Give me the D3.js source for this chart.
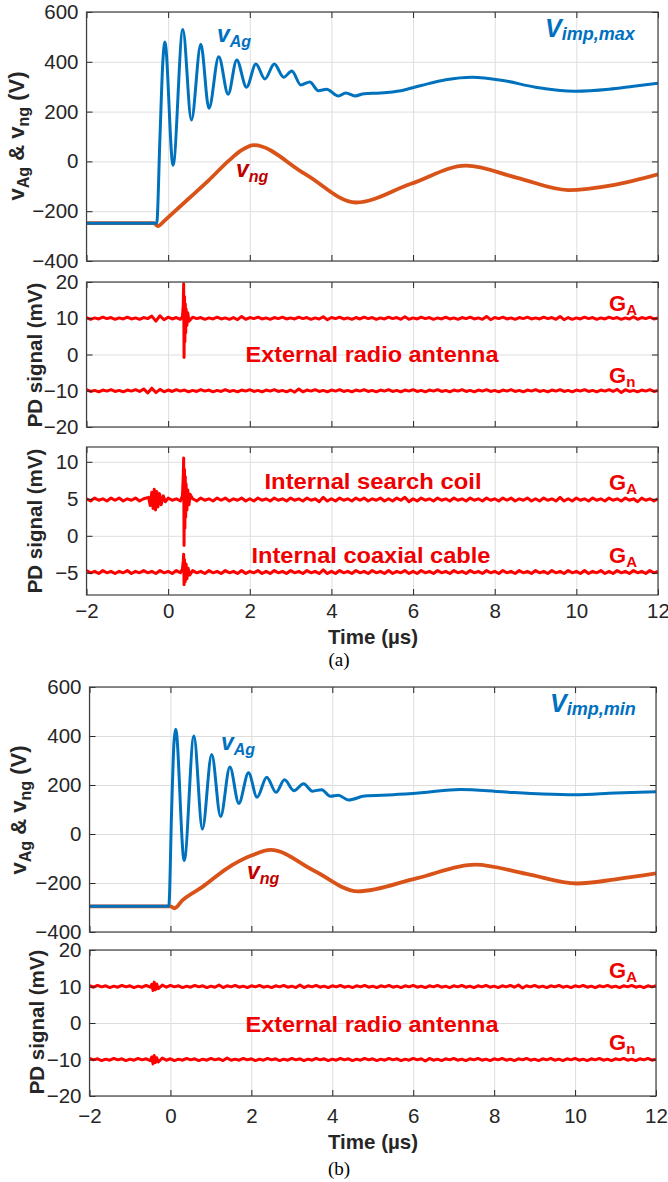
<!DOCTYPE html>
<html>
<head>
<meta charset="utf-8">
<script src="https://cdn.jsdelivr.net/npm/d3@7"></script>
<style>
  body { margin: 0; background: #fff; }
  svg { display: block; font-family: "Liberation Sans", Arial, sans-serif; }
  .grid line { stroke: #dedede; stroke-width: 1; }
  .grid path { display: none; }
</style>
</head>
<body>
<div id="chart"></div>
<script>
// ---- DATA ----
let timeTicks = [-2, 0, 2, 4, 6, 8, 10, 12];
let voltTicks = [-400, -200, 0, 200, 400, 600];
let pdTicksWide = [-20, -10, 0, 10, 20];
let pdTicksNarrow = [-5, 0, 5, 10];

// (a) V_imp,max : [time us, volts]
let vAgMax = [[-2,-248],[-0.6,-248],[-0.28,-248],[-0.2,100],[-0.13,400],[-0.08,480],[0.12,-15],[0.36,530],[0.57,166],[0.80,470],[1.00,213],[1.24,420],[1.47,270],[1.68,407],[1.92,298],[2.15,391],[2.37,331],[2.60,391],[2.83,338],[3.03,363],[3.25,307],[3.47,319],[3.68,284],[3.88,290],[4.17,263],[4.35,275],[4.58,263],[4.8,272],[5.2,275],[5.7,284],[6.2,305],[6.8,328],[7.45,338],[8.2,325],[9.0,298],[9.96,282],[10.8,290],[11.4,302],[12,314]];
let vngMax = [[-2,-248],[-0.35,-248],[-0.25,-260],[-0.1,-240],[0,-225],[0.5,-150],[1.0,-75],[1.5,5],[1.8,45],[2.1,65],[3.35,-50],[4.6,-165],[5.95,-90],[7.3,-17],[8.55,-66],[9.8,-115],[10.9,-95],[12,-52]];

// (b) V_imp,min
let vAgMin = [[-2,-295],[-0.6,-295],[-0.04,-295],[0.03,100],[0.09,380],[0.13,428],[0.34,-108],[0.58,400],[0.79,20],[1.02,325],[1.24,71],[1.47,273],[1.69,125],[1.93,250],[2.14,150],[2.38,232],[2.61,170],[2.82,221],[3.05,177],[3.29,205],[3.51,175],[3.74,181],[3.95,154],[4.15,158],[4.40,139],[4.8,155],[5.5,160],[6.2,168],[7.16,182],[8.2,172],[9.2,163],[10.0,160],[11,167],[12,172]];
let vngMin = [[-2,-295],[-0.6,-295],[0.0,-295],[0.1,-303],[0.3,-270],[0.8,-215],[1.4,-140],[2.0,-88],[2.48,-65],[3.55,-150],[4.63,-234],[6.1,-180],[7.53,-125],[8.8,-163],[10.05,-202],[11,-185],[12,-161]];

// PD signals: baseline (mV), ripple every 0.1 us (units of 0.1 mV), spike groups [time, mV]
let pdRippleA1 = [2,-3,1,-2,3,-1,2,-3,1,-2, 3,-2,1,-3,2,-1,6,-8,7,-4, 3,-2,2,-3,2,-2,3,-1,2,-3, 1,-2,3,-2,1,-3,2,-4,5,-3, 2,-1,3,-2,1,-3,2,-1,3,-2, 1,-2,3,-1,2,-3,1,-2,4,-4, 2,-1,3,-2,1,-3,2,-2,3,-1, 2,-3,1,-2,3,-1,2,-3,4,-3, 1,-2,3,-1,2,-3,1,-2,3,-2, 1,-3,2,-1,3,-2,1,-3,5,-4, 2,-1,3,-2,1,-3,2,-1,3,-2, 1,-2,3,-1,2,-3,5,-4,2,-3, 1,-2,3,-1,2,-3,1,-2,3,-1, 2,-3,1,-2,4,-3,2,-1,3,-2, 1];
let pdRippleN1 = [3,-2,1,-3,2,-1,3,-2,1,-3, 2,-1,3,-2,5,-6,7,-5,4,-3, 2,-2,3,-1,2,-3,1,-2,3,-1, 2,-3,1,-2,3,-2,1,-3,2,-1, 3,-2,1,-3,2,-1,3,-2,1,-3, 2,-4,5,-3,2,-1,3,-2,1,-3, 2,-1,3,-2,1,-3,2,-1,3,-2, 1,-3,2,-1,3,-2,1,-3,2,-1, 3,-2,1,-3,2,-1,3,-2,1,-3, 2,-1,3,-2,1,-3,2,-1,3,-2, 1,-3,2,-1,3,-2,1,-3,2,-1, 3,-2,1,-3,2,-1,3,-2,1,-3, 2,-1,3,-2,1,-3,2,-1,3,-2, 4,-5,3,-2,1,-3,2,-1,3,-2, 1];
let pdRippleCoil = [1,-2,2,-1,1,-2,2,-1,2,-2, 1,-1,2,-2,1,-2,2,-1,1,-2, 2,-1,1,-2,2,-1,1,-2,2,-1, 1,-2,2,-1,2,-2,1,-1,2,-2, 1,-2,2,-1,1,-2,2,-1,1,-2, 2,-1,1,-2,2,-1,1,-3,3,-2, 1,-2,2,-1,1,-2,2,-1,2,-2, 1,-1,2,-2,1,-2,2,-1,3,-3, 1,-2,2,-1,1,-2,2,-1,1,-2, 2,-1,1,-2,2,-1,1,-2,2,-1, 1,-2,2,-1,2,-2,1,-1,2,-2, 1,-2,2,-1,1,-2,3,-2,1,-2, 2,-1,1,-2,2,-1,1,-2,2,-1, 1,-2,2,-1,1,-3,2,-1,1,-2, 1];
let pdRippleCoax = [2,-1,1,-2,2,-1,1,-2,1,-1, 2,-2,1,-1,2,-1,1,-2,2,-1, 1,-2,2,-1,1,-2,2,-1,1,-2, 2,-1,1,-2,2,-1,1,-2,2,-2, 1,-1,2,-2,1,-2,2,-1,1,-2, 2,-1,1,-2,2,-1,1,-2,3,-2, 1,-2,2,-1,1,-2,2,-1,1,-2, 2,-1,1,-2,2,-2,1,-1,2,-2, 1,-2,2,-1,1,-2,2,-1,1,-2, 2,-1,1,-2,2,-1,1,-2,2,-1, 1,-2,2,-1,1,-2,2,-1,1,-2, 2,-1,1,-2,2,-1,1,-2,2,-1, 1,-2,2,-2,1,-1,2,-2,1,-2, 2,-1,1,-2,2,-1,1,-2,2,-1, 1];
let pdRippleA2 = [2,-2,3,-1,2,-3,1,-2,3,-1, 2,-3,1,-2,3,-2,5,-6,4,-2, 3,-1,2,-3,1,-2,3,-1,2,-3, 1,-2,4,-3,2,-1,3,-2,1,-3, 2,-1,3,-2,1,-3,2,-1,3,-2, 1,-3,4,-3,2,-1,3,-2,1,-3, 2,-1,3,-2,1,-3,2,-1,3,-2, 1,-3,2,-1,3,-2,1,-3,2,-1, 3,-2,1,-3,2,-1,3,-2,1,-3, 2,-1,3,-2,1,-3,2,-1,3,-2, 1,-3,2,-1,3,-2,4,-4,2,-1, 3,-2,1,-3,2,-1,3,-2,1,-3, 2,-1,3,-2,1,-3,2,-1,3,-2, 1,-3,2,-1,3,-2,1,-3,2,-1, 2];
let pdRippleN2 = [3,-1,2,-3,1,-2,3,-1,2,-3, 1,-2,3,-1,2,-3,5,-7,4,-2, 2,-3,1,-2,3,-1,2,-3,1,-2, 3,-1,2,-3,4,-2,1,-2,3,-1, 2,-3,1,-2,3,-1,2,-3,1,-2, 3,-1,2,-3,1,-2,3,-1,2,-3, 1,-2,3,-1,2,-3,1,-2,3,-1, 2,-3,1,-2,3,-1,2,-3,1,-2, 3,-1,2,-4,3,-2,1,-3,2,-1, 3,-2,1,-3,2,-1,3,-2,1,-3, 2,-1,3,-2,1,-3,2,-1,3,-2, 1,-3,2,-1,3,-2,1,-3,2,-1, 3,-2,1,-3,2,-1,3,-2,1,-3, 2,-1,3,-2,1,-3,2,-1,3,-2, 1];

let spikeA1 = [[[0.35,10.4],[0.37,13.5],[0.38,19.5],[0.39,-0.8],[0.40,16],[0.41,3.5],[0.42,14],[0.43,6],[0.44,12.5],[0.46,8],[0.48,11.5],[0.51,9.2]]];
let spikeCoil = [[[-0.48,5.2],[-0.44,4.1],[-0.4,5.9],[-0.37,3.7],[-0.34,6.3],[-0.31,3.5],[-0.28,6.0],[-0.25,3.9],[-0.21,5.7],[-0.17,4.2],[-0.12,5.4],[-0.07,4.6]],
                 [[0.35,5.4],[0.37,8],[0.38,10.5],[0.39,-1.3],[0.40,9],[0.41,1],[0.42,8],[0.43,2.5],[0.44,7],[0.46,3.5],[0.48,6.2],[0.51,4.2],[0.54,5.6]]];
let spikeCoax = [[[0.35,-4.5],[0.37,-3.4],[0.38,-2.5],[0.39,-6.6],[0.40,-3.2],[0.42,-6.2],[0.44,-3.8],[0.46,-5.8],[0.49,-4.4],[0.53,-5.3]]];
let spikeA2 = [[[-0.46,10.6],[-0.43,8.9],[-0.4,11.2],[-0.37,9.1],[-0.34,10.7]]];
let spikeN2 = [[[-0.46,-9.3],[-0.43,-11.2],[-0.4,-8.9],[-0.37,-10.8],[-0.34,-9.5]]];

// ---- LAYOUT ----
let svg = d3.select("#chart").append("svg")
    .attr("width", 668)
    .attr("height", 1182);

let blue = "#0072BD", orange = "#D95319", red = "#FF0000";
let labelBlue = "#0070C0", labelDark = "#C00000", labelRed = "#F00000";
let tickFont = 20.5;

let panels = [
    {x0: 86.5, x1: 658, y0: 12,  y1: 261, dom: [-400, 600], ticks: voltTicks,     xLabels: false},
    {x0: 86.5, x1: 658, y0: 282, y1: 427, dom: [-20, 20],   ticks: pdTicksWide,   xLabels: false},
    {x0: 86.5, x1: 658, y0: 447, y1: 595, dom: [-8, 12],    ticks: pdTicksNarrow, xLabels: true, pad: 8},
    {x0: 89.5, x1: 656, y0: 687, y1: 932, dom: [-400, 600], ticks: voltTicks,     xLabels: false},
    {x0: 89.5, x1: 656, y0: 950, y1: 1096, dom: [-20, 20],  ticks: pdTicksWide,   xLabels: true, pad: 12}
];

let tGrid = d3.range(141).map(i => -2 + i * 0.1);

function pdTrace(base, ripple, spikes) {
    let pts = ripple.map((r, i) => [tGrid[i], base + r * 0.1])
        .filter(p => spikes.every(s => p[0] < s[0][0] - 0.02 || p[0] > s[s.length - 1][0] + 0.02));
    spikes.forEach(s => { pts = pts.concat(s); });
    return pts.sort((a, b) => a[0] - b[0]);
}

function drawPanel(p, i) {
    let x = d3.scaleLinear().domain([-2, 12]).range([p.x0, p.x1]);
    let y = d3.scaleLinear().domain(p.dom).range([p.y1, p.y0]);
    let g = svg.append("g");
    let w = p.x1 - p.x0, h = p.y1 - p.y0;

    // grid
    g.append("g").attr("class", "grid")
        .attr("transform", "translate(0," + p.y0 + ")")
        .call(d3.axisBottom(x).tickValues(timeTicks).tickSize(h).tickFormat(""));
    g.append("g").attr("class", "grid")
        .attr("transform", "translate(" + p.x0 + ",0)")
        .call(d3.axisRight(y).tickValues(p.ticks).tickSize(w).tickFormat(""));

    // clip
    g.append("clipPath").attr("id", "clip" + i)
        .append("rect").attr("x", p.x0).attr("y", p.y0).attr("width", w).attr("height", h);
    p.plot = g.append("g").attr("clip-path", "url(#clip" + i + ")");

    // axes, ticks pointing inward
    let axes = [
        [d3.axisLeft(y).tickValues(p.ticks).tickPadding(8), "translate(" + p.x0 + ",0)"],
        [d3.axisRight(y).tickValues(p.ticks).tickFormat(""), "translate(" + p.x1 + ",0)"],
        [d3.axisTop(x).tickValues(timeTicks).tickFormat(""), "translate(0," + p.y0 + ")"],
        [d3.axisBottom(x).tickValues(timeTicks).tickPadding(p.pad || 8)
            .tickFormat(p.xLabels ? d3.format("d") : ""), "translate(0," + p.y1 + ")"]
    ];
    axes.forEach(a => {
        let ag = g.append("g").attr("transform", a[1])
            .call(a[0].tickSizeInner(-6).tickSizeOuter(0));
        ag.select(".domain").remove();
        ag.selectAll("line").attr("stroke", "#262626");
        ag.selectAll("text").attr("fill", "#262626").attr("font-size", tickFont)
            .attr("font-family", "'Liberation Sans', Arial, sans-serif");
    });
    g.append("rect").attr("x", p.x0).attr("y", p.y0).attr("width", w).attr("height", h)
        .attr("fill", "none").attr("stroke", "#404040").attr("stroke-width", 1.2);

    p.x = x; p.y = y;
}
panels.forEach(drawPanel);

function drawLine(p, data, color, width, curve) {
    let line = d3.line().x(d => p.x(d[0])).y(d => p.y(d[1])).curve(curve);
    p.plot.append("path").datum(data)
        .attr("fill", "none").attr("stroke", color).attr("stroke-width", width)
        .attr("stroke-linejoin", "round").attr("d", line);
}

drawLine(panels[0], vngMax, orange, 3.8, d3.curveMonotoneX);
drawLine(panels[0], vAgMax, blue, 3, d3.curveMonotoneX);
drawLine(panels[3], vngMin, orange, 3.8, d3.curveMonotoneX);
drawLine(panels[3], vAgMin, blue, 3, d3.curveMonotoneX);

drawLine(panels[1], pdTrace(10, pdRippleA1, spikeA1), red, 3, d3.curveLinear);
drawLine(panels[1], pdTrace(-10, pdRippleN1, []), red, 3, d3.curveLinear);
drawLine(panels[2], pdTrace(4.9, pdRippleCoil, spikeCoil), red, 3, d3.curveLinear);
drawLine(panels[2], pdTrace(-4.9, pdRippleCoax, spikeCoax), red, 3, d3.curveLinear);
drawLine(panels[4], pdTrace(10, pdRippleA2, spikeA2), red, 3, d3.curveLinear);
drawLine(panels[4], pdTrace(-10, pdRippleN2, spikeN2), red, 3, d3.curveLinear);

// ---- TEXT ----
// parts: [text, size, baseline shift]
function richText(x, y, parts, opt) {
    let t = svg.append("text").attr("x", x).attr("y", y)
        .attr("font-weight", "bold")
        .attr("font-style", opt.italic ? "italic" : "normal")
        .attr("fill", opt.color || "#262626")
        .attr("text-anchor", opt.anchor || "start");
    if (opt.rotate) t.attr("transform", "rotate(-90," + x + "," + y + ")");
    if (opt.length) t.attr("textLength", opt.length).attr("lengthAdjust", "spacingAndGlyphs");
    let shift = 0;
    parts.forEach(pt => {
        t.append("tspan").attr("font-size", pt[1]).attr("dy", pt[2] - shift).text(pt[0]);
        shift = pt[2];
    });
    return t;
}

// y axis titles
let vTitle = [["v", 22, 0], ["Ag", 16, 5], [" & v", 22, 0], ["ng", 16, 5], [" (V)", 22, 0]];
richText(24, 136, vTitle, {rotate: true, anchor: "middle"});
richText(42, 355, [["PD signal (mV)", 20.5, 0]], {rotate: true, anchor: "middle"});
richText(42, 521, [["PD signal (mV)", 20.5, 0]], {rotate: true, anchor: "middle"});
richText(26, 810, vTitle, {rotate: true, anchor: "middle"});
richText(44, 1022, [["PD signal (mV)", 20.5, 0]], {rotate: true, anchor: "middle"});

// x axis titles and captions
richText(373, 644, [["Time (\u00b5s)", 20.5, 0]], {anchor: "middle"});
richText(373, 1149, [["Time (\u00b5s)", 20.5, 0]], {anchor: "middle"});
svg.append("text").attr("x", 339).attr("y", 666).attr("text-anchor", "middle")
    .attr("font-family", "'Liberation Serif', 'Times New Roman', serif").attr("font-size", 19).text("(a)");
svg.append("text").attr("x", 339).attr("y", 1175).attr("text-anchor", "middle")
    .attr("font-family", "'Liberation Serif', 'Times New Roman', serif").attr("font-size", 19).text("(b)");

// curve labels
richText(217, 42, [["v", 23, 0], ["Ag", 16, 5]], {italic: true, color: labelBlue});
richText(236, 177, [["v", 23, 0], ["ng", 16, 5]], {italic: true, color: labelDark});
richText(545, 37, [["V", 25, 0], ["imp,max", 18, 3]], {italic: true, color: labelBlue});
richText(221, 750, [["v", 23, 0], ["Ag", 16, 5]], {italic: true, color: labelBlue});
richText(247, 879, [["v", 23, 0], ["ng", 16, 5]], {italic: true, color: labelDark});
richText(550, 712, [["V", 25, 0], ["imp,min", 18, 3]], {italic: true, color: labelBlue});

// PD labels
let gA = [["G", 22, 0], ["A", 15, 4]], gN = [["G", 22, 0], ["n", 15, 4]];
richText(609, 311, gA, {color: labelRed});
richText(609, 383, gN, {color: labelRed});
richText(372, 362, [["External radio antenna", 21.5, 0]], {color: labelRed, anchor: "middle", length: 253});
richText(609, 490, gA, {color: labelRed});
richText(373, 489, [["Internal search coil", 21.5, 0]], {color: labelRed, anchor: "middle", length: 217});
richText(609, 563, gA, {color: labelRed});
richText(371, 563, [["Internal coaxial cable", 21.5, 0]], {color: labelRed, anchor: "middle", length: 239});
richText(609, 978, gA, {color: labelRed});
richText(609, 1050, gN, {color: labelRed});
richText(372, 1032, [["External radio antenna", 21.5, 0]], {color: labelRed, anchor: "middle", length: 253});
</script>
</body>
</html>
